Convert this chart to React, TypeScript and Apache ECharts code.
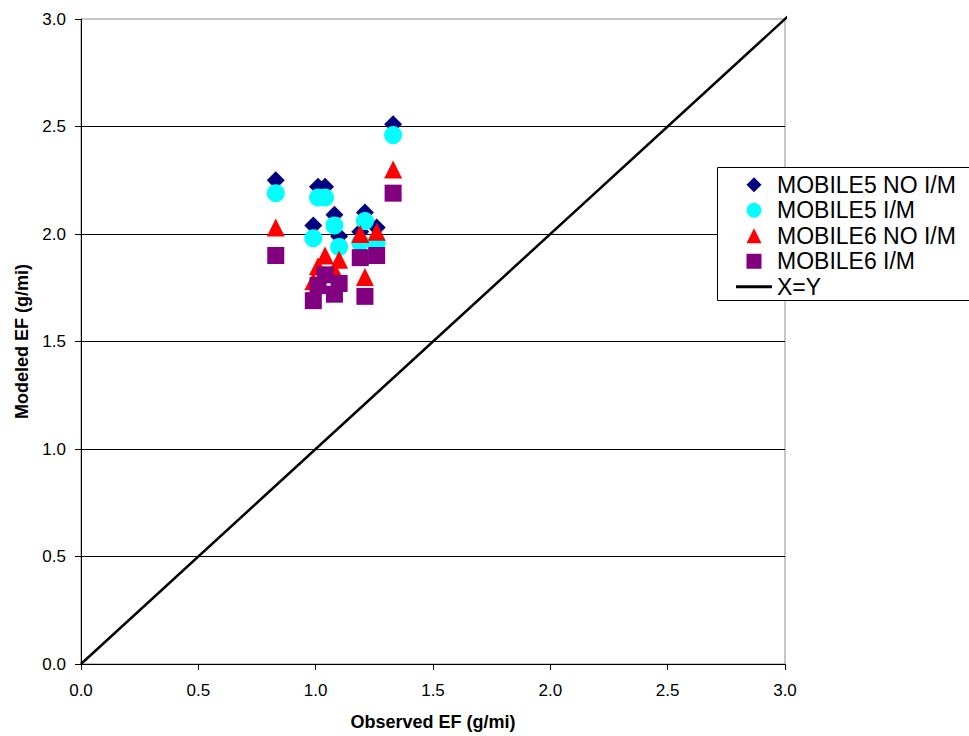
import React, { useEffect, useRef } from "react";
import * as echarts from "echarts";

// Observed emission factors (g/mi) for each test, and modeled values per model run
const observedEF = [0.83, 0.99, 1.01, 1.04, 1.08, 1.1, 1.19, 1.21, 1.26, 1.33];
const mobile5NoIM = [2.25, 2.04, 2.22, 2.22, 2.09, 1.99, 2.01, 2.1, 2.03, 2.51];
const mobile5IM = [2.19, 1.98, 2.17, 2.17, 2.04, 1.94, 1.96, 2.06, 1.96, 2.46];
const mobile6NoIM = [2.03, 1.78, 1.85, 1.9, 1.83, 1.88, 2.0, 1.8, 2.01, 2.3];
const mobile6IM = [1.9, 1.69, 1.76, 1.81, 1.72, 1.77, 1.89, 1.71, 1.9, 2.19];

// Reference line ends (drawn slightly past the frame, as in the original sheet)
const identityEnds = [0, 3.03];

const scatterNames = ["MOBILE5 NO I/M", "MOBILE5 I/M", "MOBILE6 NO I/M", "MOBILE6 I/M"];
const lineName = "X=Y";

// Square-aspect legend icons so the markers are not stretched across the icon box
const legendIcons = [
  "path://M0,-1L1,0L0,1L-1,0Z",
  "path://M-1,0A1,1,0,1,1,1,0A1,1,0,1,1,-1,0Z",
  "path://M0,-1L1,1L-1,1Z",
  "path://M-1,-1L1,-1L1,1L-1,1Z",
];

const FONT = "'Liberation Sans', Arial, Helvetica, sans-serif";

const pairUp = (ys: number[]) => observedEF.map((x, i) => [x, ys[i]]);

export default function App() {
  const ref = useRef<HTMLDivElement>(null);

  useEffect(() => {
    document.body.style.margin = "0";
    if (!ref.current) return;
    const chart = echarts.init(ref.current, undefined, { renderer: "svg" });

    const axisCommon = {
      type: "value" as const,
      min: 0,
      max: 3,
      interval: 0.5,
      axisLine: { show: true, lineStyle: { color: "#000", width: 1 } },
      axisTick: { show: true, inside: false, length: 6, lineStyle: { color: "#000" } },
      axisLabel: {
        color: "#000",
        fontFamily: FONT,
        fontSize: 17,
        formatter: (v: number) => v.toFixed(1),
      },
      nameLocation: "middle" as const,
      nameTextStyle: { color: "#000", fontFamily: FONT, fontSize: 18, fontWeight: "bold" as const },
    };

    chart.setOption({
      animation: false,
      backgroundColor: "#fff",
      grid: {
        left: 81,
        top: 19,
        right: 184,
        bottom: 70,
        show: true,
        borderColor: "#8c8c8c",
        borderWidth: 1,
        backgroundColor: "transparent",
      },
      xAxis: {
        ...axisCommon,
        name: "Observed EF (g/mi)",
        nameGap: 49,
        axisLabel: { ...axisCommon.axisLabel, margin: 18 },
        splitLine: { show: false },
      },
      yAxis: {
        ...axisCommon,
        name: "Modeled EF (g/mi)",
        nameGap: 50,
        axisLabel: { ...axisCommon.axisLabel, margin: 15 },
        splitLine: {
          show: true,
          showMaxLine: false,
          lineStyle: { color: "#000", width: 1 },
        },
      },
      // Legend frame
      graphic: [
        {
          type: "rect",
          z: 10,
          shape: { x: 717.5, y: 167.5, width: 300, height: 133 },
          style: { fill: "#fff", stroke: "#000", lineWidth: 1 },
        },
      ],
      legend: {
        orient: "vertical",
        left: 736,
        top: 172,
        padding: 0,
        data: [
          ...scatterNames.map((name, i) => ({ name, icon: legendIcons[i] })),
          { name: lineName, icon: "path://M0,0L37,0L37,3L0,3Z" },
        ],
        itemWidth: 36,
        itemHeight: 15,
        itemGap: 0,
        symbolKeepAspect: true,
        selectedMode: false,
        z: 20,
        textStyle: { color: "#000", fontFamily: FONT, fontSize: 23, lineHeight: 25.5 },
      },
      series: [
        {
          name: scatterNames[0],
          type: "scatter",
          symbol: "diamond",
          symbolSize: 18,
          itemStyle: { color: "#000080", opacity: 1 },
          data: pairUp(mobile5NoIM),
          z: 2,
        },
        {
          name: scatterNames[1],
          type: "scatter",
          symbol: "circle",
          symbolSize: 18,
          itemStyle: { color: "#00ffff", opacity: 1 },
          data: pairUp(mobile5IM),
          z: 3,
        },
        {
          name: scatterNames[2],
          type: "scatter",
          symbol: "triangle",
          symbolSize: 18,
          itemStyle: { color: "#ff0000", opacity: 1 },
          data: pairUp(mobile6NoIM),
          z: 4,
        },
        {
          name: scatterNames[3],
          type: "scatter",
          symbol: "rect",
          symbolSize: 17,
          itemStyle: { color: "#800080", opacity: 1 },
          data: pairUp(mobile6IM),
          z: 5,
        },
        {
          name: lineName,
          type: "line",
          symbol: "none",
          clip: false,
          lineStyle: { color: "#000", width: 2.5 },
          itemStyle: { color: "#000" },
          data: identityEnds.map((v) => [v, v]),
          z: 6,
        },
      ],
    });

    return () => chart.dispose();
  }, []);

  return <div ref={ref} style={{ width: 969, height: 736 }} />;
}
